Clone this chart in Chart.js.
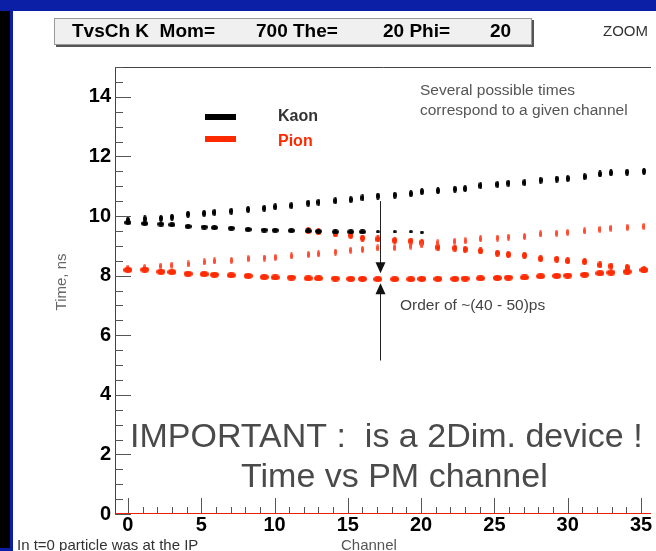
<!DOCTYPE html>
<html>
<head>
<meta charset="utf-8">
<script src="https://cdn.jsdelivr.net/npm/chart.js@4.4.1/dist/chart.umd.min.js"></script>
<style>
html, body { margin: 0; padding: 0; background: #0b1fa6; }
#wrap { position: relative; width: 656px; height: 551px; overflow: hidden; background: #0b1fa6; }
#strip { position: absolute; left: 0; top: 11px; width: 10px; height: 537px; background: #000; }
#panel { position: absolute; left: 13px; top: 11px; width: 643px; height: 540px; background: #fff; }
#chart { position: absolute; left: 0; top: 0; }
</style>
</head>
<body>
<div id="wrap">
  <div id="strip"></div>
  <div id="panel"></div>
  <canvas id="chart" width="656" height="551"></canvas>
</div>
<script>
// PM channel positions of the points
const channels = [0, 1.15, 2.25, 3, 4.1, 5.2, 5.9, 7.05, 8.2, 9.3, 10.05, 11.15, 12.3, 13, 14.15, 15.2, 16, 17.05,
    18.2, 19.3, 20.05, 21.15, 22.3, 23, 24.05, 25.2, 25.95, 27.05, 28.15, 29.25, 30, 31.15, 32.2, 32.95, 34.05, 35.2];

// times, ns
const kaonUpper = [9.86, 9.90, 9.92, 9.96, 10.06, 10.09, 10.12, 10.16, 10.22, 10.26, 10.31, 10.35, 10.43, 10.46, 10.51, 10.55,
    10.61, 10.67, 10.70, 10.75, 10.82, 10.85, 10.90, 10.92, 11.02, 11.06, 11.10, 11.12, 11.20, 11.24, 11.26, 11.32, 11.41, 11.45, 11.47, 11.50];
const kaonLower = [9.78, 9.75, 9.73, 9.71, 9.65, 9.63, 9.61, 9.59, 9.55, 9.53, 9.52, 9.51, 9.50, 9.49, 9.47, 9.47, 9.47, 9.47,
    9.47, 9.47, 9.46];
const pionLower = [8.19, 8.20, 8.13, 8.12, 8.06, 8.05, 8.03, 8.01, 7.99, 7.95, 7.94, 7.93, 7.91, 7.91, 7.90, 7.89, 7.89, 7.88,
    7.88, 7.88, 7.89, 7.89, 7.89, 7.90, 7.91, 7.92, 7.93, 7.94, 7.98, 7.99, 8.00, 8.03, 8.08, 8.10, 8.13, 8.19];
const pionUpper = [8.25, 8.27, 8.32, 8.35, 8.39, 8.46, 8.49, 8.51, 8.57, 8.59, 8.61, 8.66, 8.71, 8.73, 8.79, 8.85, 8.88, 8.93,
    8.94, 8.99, 9.03, 9.10, 9.15, 9.17, 9.24, 9.26, 9.29, 9.31, 9.40, 9.42, 9.45, 9.50, 9.55, 9.59, 9.62, 9.65];
// this branch starts at channel 12.3
const pionMiddleStart = 12;
const pionMiddle = [9.50, 9.47, 9.40, 9.35, 9.26, 9.23, 9.18, 9.16, 9.11, 8.95, 8.92, 8.88, 8.83, 8.75, 8.71, 8.68, 8.57,
    8.55, 8.50, 8.47, 8.36, 8.32, 8.27, 8.21];

const xTicks = [0, 5, 10, 15, 20, 25, 30, 35];
const yTicks = [0, 2, 4, 6, 8, 10, 12, 14];

const FONT = '"Liberation Sans", Arial, Helvetica, sans-serif';
const BLACK = '#000000';
const RED = '#ff2a00';

function ellipse(w, h, color) {
    const c = document.createElement('canvas');
    c.width = w;
    c.height = h;
    const g = c.getContext('2d');
    g.fillStyle = color;
    g.beginPath();
    g.ellipse(w / 2, h / 2, w / 2, h / 2, 0, 0, Math.PI * 2);
    g.fill();
    return c;
}

const mkKaonUp = ellipse(4, 7, BLACK);
const mkKaonLow = ellipse(7, 5, BLACK);
const mkKaonFade = ellipse(4, 3, BLACK);
const mkPionLow = ellipse(9, 6, RED);
const mkPionUp = ellipse(3, 7, '#ff4a30');
const mkPionMid = ellipse(5, 7, RED);

function pts(vals, start) {
    return vals.map((v, i) => ({ x: channels[i + (start || 0)], y: v }));
}

const frame = {
    id: 'frame',
    beforeDatasetsDraw(chart) {
        const { ctx, chartArea: a, scales: { x, y } } = chart;
        ctx.save();
        ctx.strokeStyle = '#444';
        ctx.lineWidth = 1;
        ctx.beginPath();
        ctx.moveTo(a.left + 0.5, a.bottom);
        ctx.lineTo(a.left + 0.5, a.top + 0.5);
        ctx.lineTo(a.right, a.top + 0.5);
        ctx.moveTo(a.left, a.bottom - 0.5);
        ctx.lineTo(a.right, a.bottom - 0.5);
        ctx.stroke();
        // ticks drawn inside the frame
        ctx.strokeStyle = '#555';
        ctx.beginPath();
        for (let v = 0; v <= 15; v += 0.5) {
            const py = Math.round(y.getPixelForValue(v)) + 0.5;
            const len = v % 2 === 0 ? 16 : 8;
            ctx.moveTo(a.left, py);
            ctx.lineTo(a.left + len, py);
        }
        for (let c = 0; c <= 35; c++) {
            const px = Math.round(x.getPixelForValue(c)) + 0.5;
            const len = c % 5 === 0 ? 16 : 7;
            ctx.moveTo(px, a.bottom);
            ctx.lineTo(px, a.bottom - len);
        }
        ctx.stroke();
        ctx.restore();
    }
};

function arrowHead(ctx, px, py, dir) {
    ctx.beginPath();
    ctx.moveTo(px, py);
    ctx.lineTo(px - 5, py - dir * 11);
    ctx.lineTo(px + 5, py - dir * 11);
    ctx.closePath();
    ctx.fill();
}

const notes = {
    id: 'notes',
    afterDraw(chart) {
        const { ctx, scales: { x, y } } = chart;
        ctx.save();

        // title box
        ctx.fillStyle = '#555';
        ctx.fillRect(56, 20, 478, 27);
        ctx.fillStyle = '#f0f0f0';
        ctx.fillRect(54, 18, 478, 27);
        ctx.strokeStyle = '#999';
        ctx.lineWidth = 1;
        ctx.strokeRect(54.5, 18.5, 477, 26);
        ctx.fillStyle = '#000';
        ctx.font = 'bold 19px ' + FONT;
        ctx.textBaseline = 'middle';
        ctx.textAlign = 'left';
        ctx.fillText('TvsCh K  Mom=', 72, 32);
        ctx.fillText('700 The=', 256, 32);
        ctx.fillText('20 Phi=', 383, 32);
        ctx.fillText('20', 490, 32);

        ctx.font = '15px ' + FONT;
        ctx.fillStyle = '#333';
        ctx.fillText('ZOOM', 603, 32);

        // axis titles
        ctx.fillStyle = '#555';
        ctx.textBaseline = 'alphabetic';
        ctx.fillText('Channel', 341, 550);
        ctx.fillStyle = '#333';
        ctx.fillText('In t=0 particle was at the IP', 17, 550);
        ctx.save();
        ctx.translate(66, 282);
        ctx.rotate(-Math.PI / 2);
        ctx.textAlign = 'center';
        ctx.fillStyle = '#666';
        ctx.fillText('Time, ns', 0, 0);
        ctx.restore();

        // legend
        ctx.fillStyle = BLACK;
        ctx.fillRect(205, 114, 31, 6);
        ctx.fillStyle = RED;
        ctx.fillRect(205, 136, 31, 6);
        ctx.font = 'bold 16px ' + FONT;
        ctx.fillStyle = '#333';
        ctx.fillText('Kaon', 278, 121);
        ctx.fillStyle = RED;
        ctx.fillText('Pion', 278, 146);

        ctx.font = '15.5px ' + FONT;
        ctx.fillStyle = '#555';
        ctx.fillText('Several possible times', 420, 95);
        ctx.fillText('correspond to a given channel', 420, 115);

        // arrows around channel 17
        const ax = Math.round(x.getPixelForValue(17.2)) + 0.5;
        ctx.strokeStyle = '#222';
        ctx.fillStyle = '#111';
        ctx.lineWidth = 1;
        const t1 = y.getPixelForValue(8.08);
        const t2 = y.getPixelForValue(7.74);
        ctx.beginPath();
        ctx.moveTo(ax, y.getPixelForValue(10.5));
        ctx.lineTo(ax, t1 - 8);
        ctx.moveTo(ax, y.getPixelForValue(5.15));
        ctx.lineTo(ax, t2 + 8);
        ctx.stroke();
        arrowHead(ctx, ax, t1, 1);
        arrowHead(ctx, ax, t2, -1);

        ctx.font = '15.5px ' + FONT;
        ctx.fillStyle = '#444';
        ctx.textBaseline = 'middle';
        ctx.fillText('Order of ~(40 - 50)ps', 400, 306);

        // big remark
        ctx.font = '34px ' + FONT;
        ctx.fillStyle = '#4a4a4a';
        ctx.textBaseline = 'alphabetic';
        ctx.fillText('IMPORTANT :  is a 2Dim. device !', 130, 447);
        ctx.fillText('Time vs PM channel', 241, 487);

        ctx.restore();
    }
};

new Chart(document.getElementById('chart'), {
    type: 'scatter',
    data: {
        datasets: [
            {
                label: 'zero',
                data: [{ x: -0.88, y: 0 }, { x: 35.68, y: 0 }],
                showLine: true,
                borderColor: '#e8200a',
                borderWidth: 2,
                pointRadius: 0
            },
            { label: 'Kaon', data: pts(kaonUpper), pointStyle: mkKaonUp },
            {
                label: 'Kaon 2',
                data: pts(kaonLower),
                pointStyle: (c) => (channels[c.dataIndex] > 16.5 ? mkKaonFade : mkKaonLow)
            },
            { label: 'Pion', data: pts(pionLower), pointStyle: mkPionLow },
            { label: 'Pion 2', data: pts(pionUpper), pointStyle: mkPionUp },
            { label: 'Pion 3', data: pts(pionMiddle, pionMiddleStart), pointStyle: mkPionMid }
        ]
    },
    options: {
        responsive: false,
        animation: false,
        events: [],
        layout: { padding: { left: 0, top: 67, right: 0, bottom: 0 } },
        plugins: { legend: { display: false }, tooltip: { enabled: false } },
        scales: {
            x: {
                type: 'linear',
                min: -0.88,
                max: 35.68,
                grid: { display: false, drawTicks: false },
                border: { display: false },
                ticks: { color: '#000', padding: 1, font: { family: FONT, size: 20, weight: 'bold', lineHeight: 1 } },
                afterBuildTicks: (s) => { s.ticks = xTicks.map(v => ({ value: v })); },
                afterFit: (s) => { s.height = 37; s.paddingLeft = 0; s.paddingRight = 0; }
            },
            y: {
                min: 0,
                max: 15,
                grid: { display: false, drawTicks: false },
                border: { display: false },
                ticks: { color: '#000', padding: 4, font: { family: FONT, size: 20, weight: 'bold' } },
                afterBuildTicks: (s) => { s.ticks = yTicks.map(v => ({ value: v })); },
                afterFit: (s) => { s.width = 115; s.paddingTop = 0; s.paddingBottom = 0; }
            }
        }
    },
    plugins: [frame, notes]
});
</script>
</body>
</html>
